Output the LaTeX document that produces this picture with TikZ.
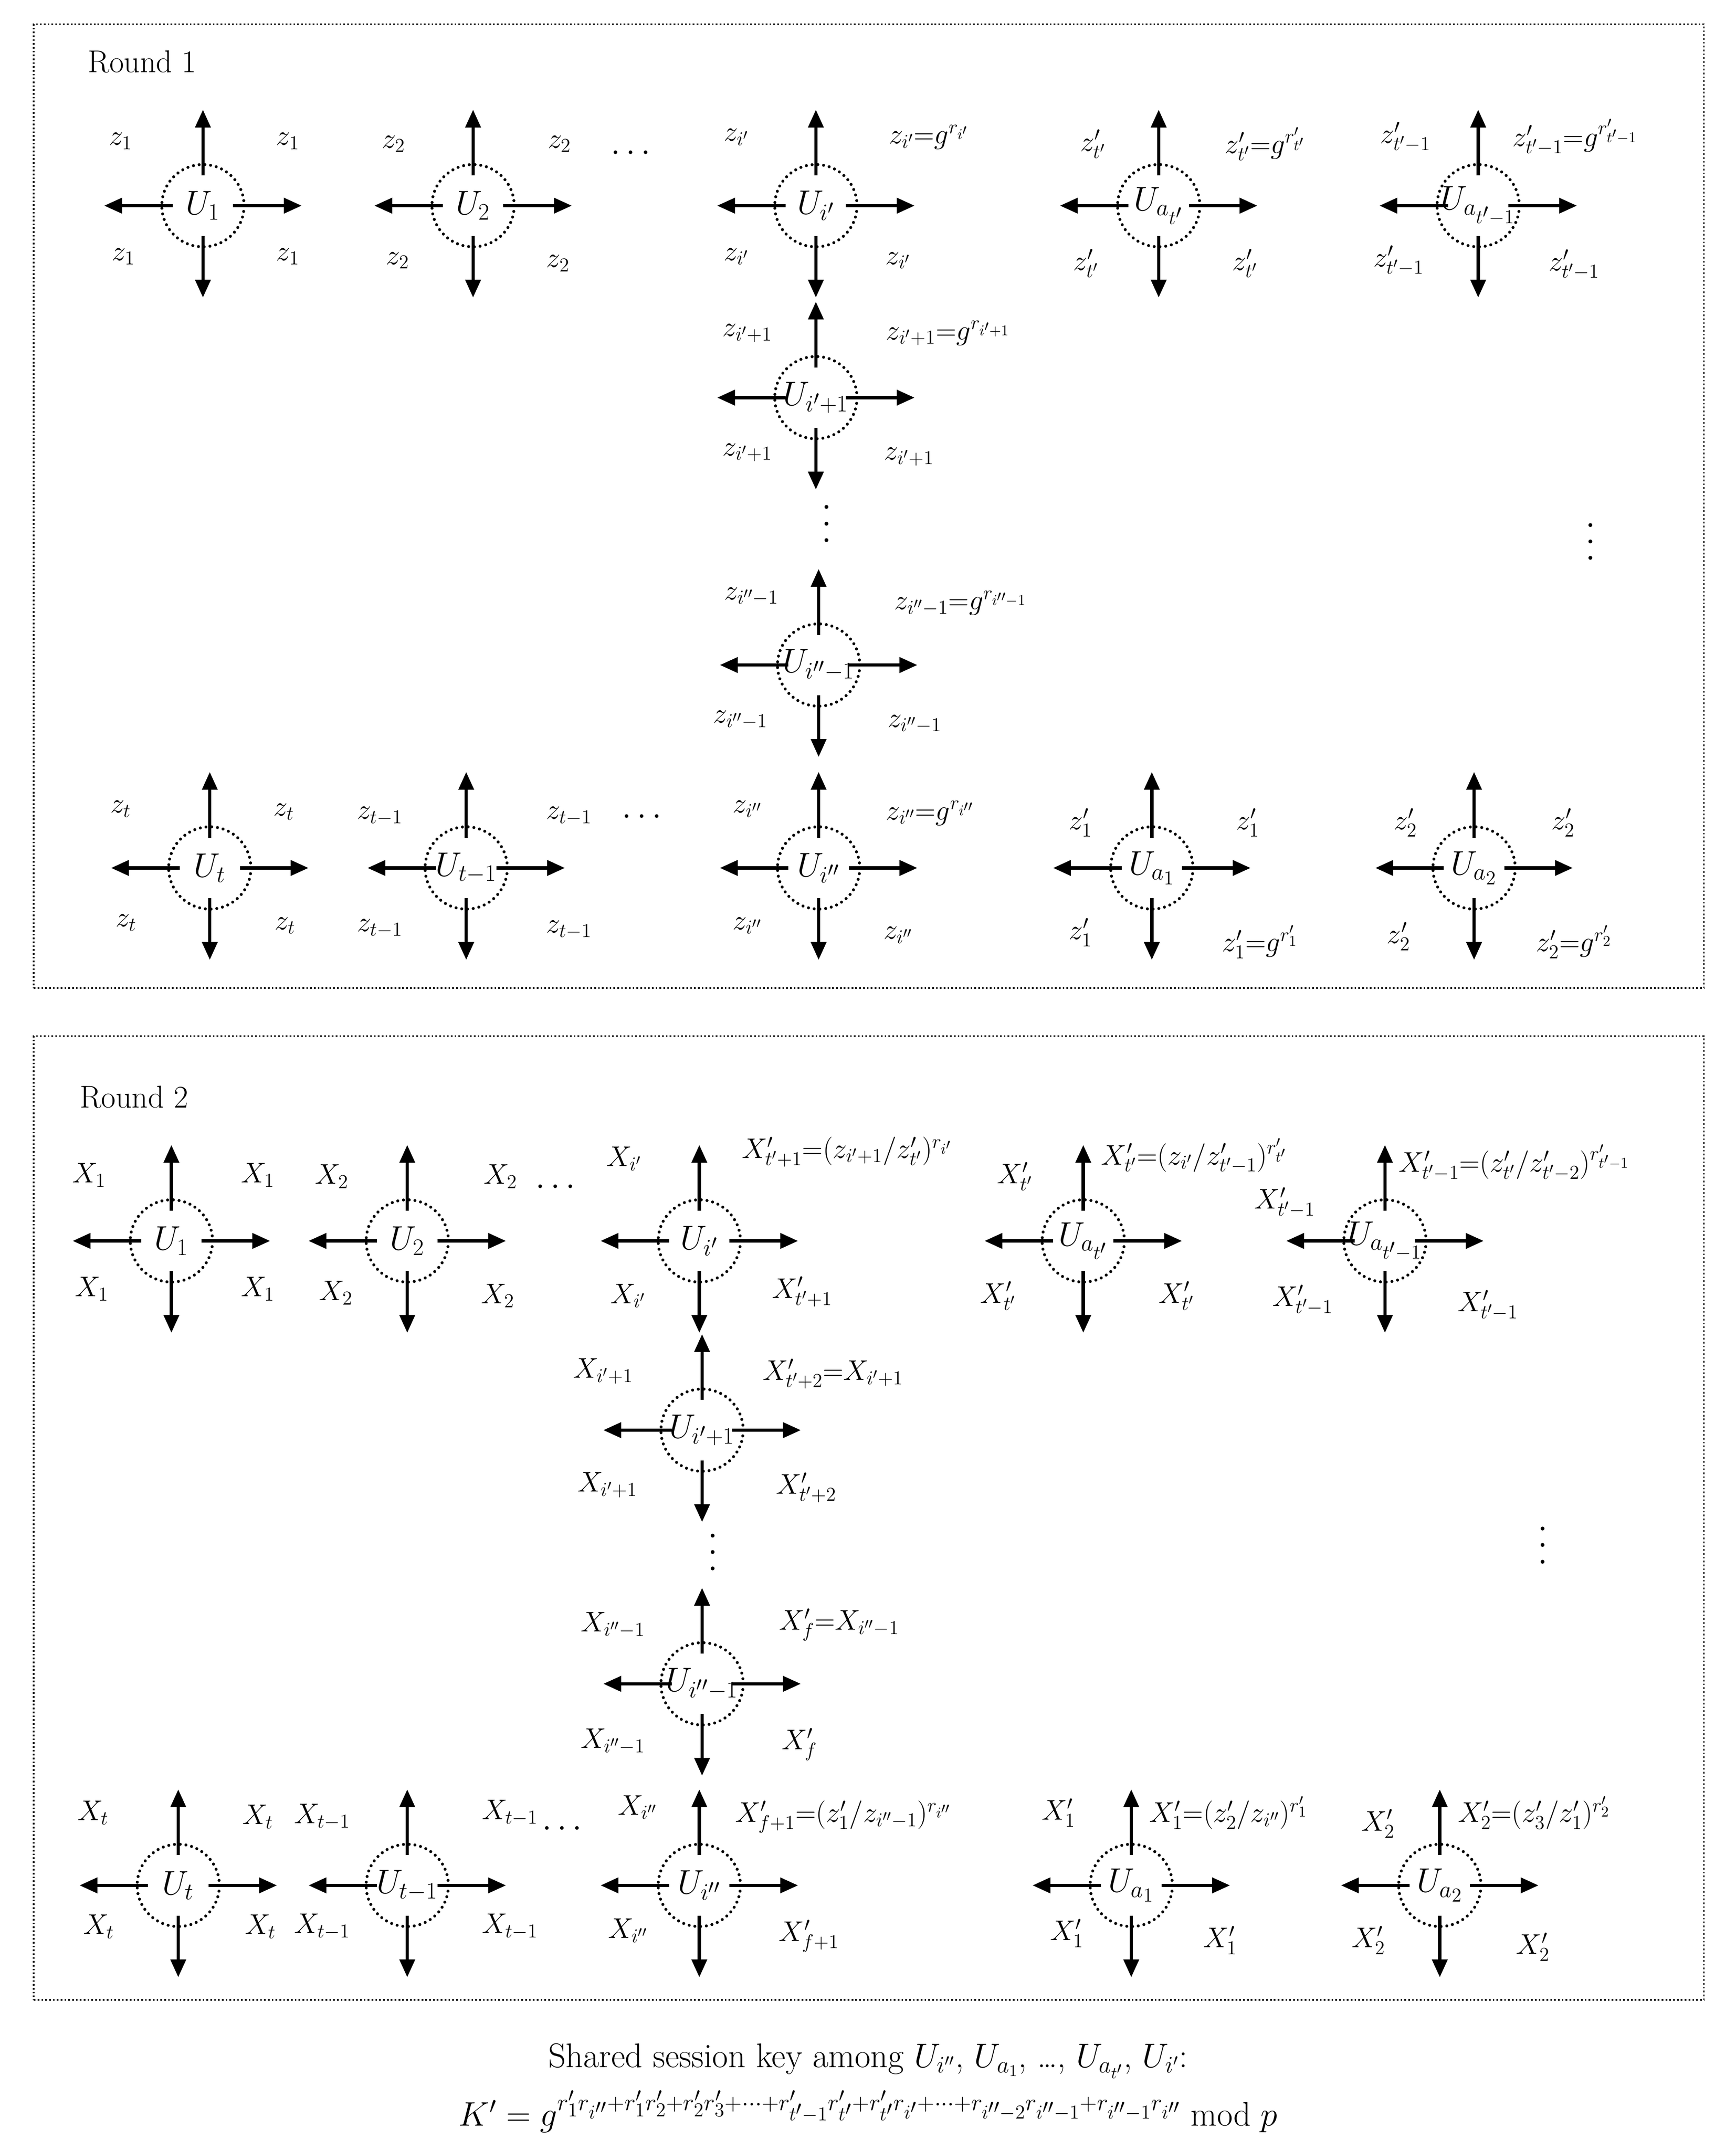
\documentclass[tikz,border=0pt]{standalone}
\usetikzlibrary{arrows.meta,calc}
\begin{document}
\begin{tikzpicture}[x=1pt,y=-1pt,
 utext/.style={inner sep=0pt,font=\fontsize{27}{30}\selectfont},
 circ/.style={line width=2.2pt,dash pattern=on 0pt off 4.2pt,line cap=round},
 arr/.style={line width=2.4pt,-{Triangle[length=13pt,width=11pt]}},
 lab/.style={inner sep=0pt,font=\fontsize{22}{25}\selectfont},
 labw/.style={lab,anchor=west},
 box/.style={line width=1.2pt,dash pattern=on 1.2pt off 1.6pt},
 ttl/.style={inner sep=0pt,font=\fontsize{23}{27}\selectfont},
 dts/.style={inner sep=0pt,font=\fontsize{34}{38}\selectfont}]
\useasboundingbox (0,0) rectangle (1266,1568);
\newcommand\usr[4]{%
 \node[utext] (#1) at (#2,#3) {$#4$};
 \draw[circ] (#1.center) circle[radius=30];
 \draw[arr] ($(#1.center)+(-22,0)$) -- ++(-50,0);
 \draw[arr] ($(#1.center)+(22,0)$) -- ++(50,0);
 \draw[arr] ($(#1.center)+(0,22)$) -- ++(0,45);
 \draw[arr] ($(#1.center)+(0,-22)$) -- ++(0,-48);}
\newcommand\lb[3]{\node[lab] at (#1,#2) {$#3$};}
\newcommand\lw[3]{\node[labw] at (#1,#2) {$#3$};}
\newcommand\vd{\vbox{\baselineskip=12pt\lineskiplimit=0pt\hbox{.}\hbox{.}\hbox{.}}}
% Round 1
\node[box,draw,minimum width=1218pt,minimum height=703pt,anchor=north west] (b1) at (24,17) {};
\node[ttl,anchor=west] (t1) at (64,45) {Round 1};
\usr{a1}{148}{150}{U_1}
\lb{88}{103}{z_1}\lb{210}{103}{z_1}\lb{90}{187}{z_1}\lb{210}{187}{z_1}
\usr{a2}{345}{150}{U_2}
\lb{287}{105}{z_2}\lb{408}{105}{z_2}\lb{290}{190}{z_2}\lb{407}{192}{z_2}
\node[dts] (d1) at (460,112) {$\cdots$};
\usr{a3}{595}{150}{U_{i'}}
\lb{537}{100}{z_{i'}}\lw{648}{100}{z_{i'}{=}g^{r_{i'}}}\lb{537}{187}{z_{i'}}\lb{655}{190}{z_{i'}}
\usr{a4}{845}{150}{U_{a_{t'}}}
\lb{797}{105}{z'_{t'}}\lw{893}{105}{z'_{t'}{=}g^{r'_{t'}}}\lb{792}{192}{z'_{t'}}\lb{908}{192}{z'_{t'}}
\usr{a5}{1078}{150}{U_{a_{t'-1}}}
\lb{1025}{100}{z'_{t'-1}}\lw{1103}{100}{z'_{t'-1}{=}g^{r'_{t'-1}}}\lb{1020}{190}{z'_{t'-1}}\lb{1148}{193}{z'_{t'-1}}
\usr{a6}{595}{290}{U_{i'+1}}
\lb{545}{243}{z_{i'+1}}\lw{646}{243}{z_{i'+1}{=}g^{r_{i'+1}}}\lb{545}{330}{z_{i'+1}}\lb{663}{333}{z_{i'+1}}
\node[dts] (d2) at (603,382) {\vd};
\usr{a7}{597}{485}{U_{i''-1}}
\lb{548}{435}{z_{i''-1}}\lw{652}{440}{z_{i''-1}{=}g^{r_{i''-1}}}\lb{540}{525}{z_{i''-1}}\lb{667}{528}{z_{i''-1}}
\node[dts] (d3) at (1160,395) {\vd};
\usr{a8}{153}{633}{U_t}
\lb{88}{590}{z_t}\lb{207}{592}{z_t}\lb{92}{673}{z_t}\lb{208}{675}{z_t}
\usr{a9}{340}{633}{U_{t-1}}
\lb{277}{595}{z_{t-1}}\lb{415}{595}{z_{t-1}}\lb{277}{677}{z_{t-1}}\lb{415}{678}{z_{t-1}}
\node[dts] (d4) at (468,596) {$\cdots$};
\usr{a10}{597}{633}{U_{i''}}
\lb{545}{590}{z_{i''}}\lw{646}{593}{z_{i''}{=}g^{r_{i''}}}\lb{545}{675}{z_{i''}}\lb{655}{682}{z_{i''}}
\usr{a11}{840}{633}{U_{a_1}}
\lb{788}{600}{z'_1}\lb{910}{600}{z'_1}\lb{788}{680}{z'_1}\lw{891}{687}{z'_1{=}g^{r'_1}}
\usr{a12}{1075}{633}{U_{a_2}}
\lb{1025}{600}{z'_2}\lb{1140}{600}{z'_2}\lb{1020}{683}{z'_2}\lw{1120}{687}{z'_2{=}g^{r'_2}}
% Round 2
\node[box,draw,minimum width=1218pt,minimum height=703pt,anchor=north west] (b2) at (24,755) {};
\node[ttl,anchor=west] (t2) at (58,800) {Round 2};
\usr{b1u}{125}{905}{U_1}
\lb{65}{857}{X_1}\lb{188}{857}{X_1}\lb{67}{940}{X_1}\lb{188}{940}{X_1}
\usr{b2u}{297}{905}{U_2}
\lb{242}{858}{X_2}\lb{365}{858}{X_2}\lb{245}{943}{X_2}\lb{363}{945}{X_2}
\node[dts] (e1) at (405,866) {$\cdots$};
\usr{b3}{510}{905}{U_{i'}}
\lb{455}{845}{X_{i'}}\lw{541}{840}{X'_{t'+1}{=}(z_{i'+1}/z'_{t'})^{r_{i'}}}\lb{458}{945}{X_{i'}}\lb{585}{942}{X'_{t'+1}}
\usr{b4}{790}{905}{U_{a_{t'}}}
\lb{740}{858}{X'_{t'}}\lw{803}{843}{X'_{t'}{=}(z_{i'}/z'_{t'-1})^{r'_{t'}}}\lb{728}{945}{X'_{t'}}\lb{858}{945}{X'_{t'}}
\usr{b5}{1010}{905}{U_{a_{t'-1}}}
\lb{937}{877}{X'_{t'-1}}\lw{1020}{848}{X'_{t'-1}{=}(z'_{t'}/z'_{t'-2})^{r'_{t'-1}}}\lb{950}{948}{X'_{t'-1}}\lb{1085}{952}{X'_{t'-1}}
\usr{b6}{512}{1043}{U_{i'+1}}
\lb{440}{1000}{X_{i'+1}}\lw{556}{1002}{X'_{t'+2}{=}X_{i'+1}}\lb{443}{1083}{X_{i'+1}}\lb{588}{1085}{X'_{t'+2}}
\node[dts] (e2) at (520,1132) {\vd};
\usr{b7}{512}{1228}{U_{i''-1}}
\lb{447}{1185}{X_{i''-1}}\lw{568}{1185}{X'_f{=}X_{i''-1}}\lb{447}{1270}{X_{i''-1}}\lb{583}{1272}{X'_f}
\node[dts] (e3) at (1125,1127) {\vd};
\usr{b8}{130}{1375}{U_t}
\lb{68}{1322}{X_t}\lb{188}{1325}{X_t}\lb{72}{1405}{X_t}\lb{190}{1405}{X_t}
\usr{b9}{297}{1375}{U_{t-1}}
\lb{235}{1325}{X_{t-1}}\lb{372}{1322}{X_{t-1}}\lb{235}{1405}{X_{t-1}}\lb{372}{1405}{X_{t-1}}
\node[dts] (e4) at (410,1334) {$\cdots$};
\usr{b10}{510}{1375}{U_{i''}}
\lb{465}{1318}{X_{i''}}\lw{536}{1325}{X'_{f+1}{=}(z'_1/z_{i''-1})^{r_{i''}}}\lb{458}{1408}{X_{i''}}\lb{590}{1412}{X'_{f+1}}
\usr{b11}{825}{1375}{U_{a_1}}
\lb{772}{1322}{X'_1}\lw{838}{1322}{X'_1{=}(z'_2/z_{i''})^{r'_1}}\lb{778}{1410}{X'_1}\lb{890}{1415}{X'_1}
\usr{b12}{1050}{1375}{U_{a_2}}
\lb{1005}{1330}{X'_2}\lw{1063}{1322}{X'_2{=}(z'_3/z'_1)^{r'_2}}\lb{998}{1415}{X'_2}\lb{1118}{1420}{X'_2}
% bottom
\node[ttl,font=\fontsize{25}{29}\selectfont] (s1) at (633,1503) {Shared session key among $U_{i''}$, $U_{a_1}$, \dots, $U_{a_{t'}}$, $U_{i'}$:};
\node[ttl,font=\fontsize{27}{31}\selectfont] (s2) at (633,1540) {$K'=g^{r'_1r_{i''}+r'_1r'_2+r'_2r'_3+\cdots+r'_{t'-1}r'_{t'}+r'_{t'}r_{i'}+\cdots+r_{i''-2}r_{i''-1}+r_{i''-1}r_{i''}}\bmod p$};
\end{tikzpicture}
\end{document}
